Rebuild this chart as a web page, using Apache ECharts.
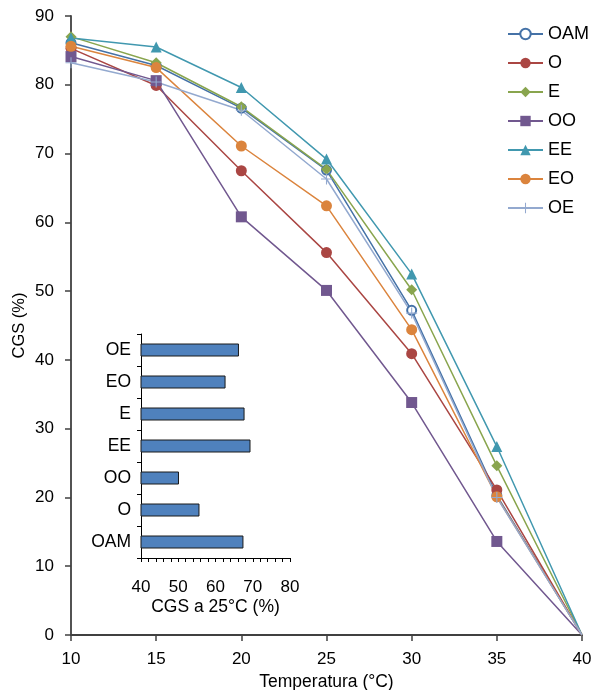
<!DOCTYPE html>
<html><head><meta charset="utf-8">
<script src="https://cdn.jsdelivr.net/npm/echarts@6/dist/echarts.min.js"></script>
<style>html,body{margin:0;padding:0;background:#fff}#c{width:592px;height:690px}</style>
</head><body><div id="c"></div>
<script>
const temps = [10, 15, 20, 25, 30, 35, 40];
const seriesNames = ['OAM', 'O', 'E', 'OO', 'EE', 'EO', 'OE'];
const OAM = [86.1, 82.8, 76.6, 67.6, 47.2, 20.3, 0];
const O   = [85.3, 79.9, 67.5, 55.6, 40.9, 21.1, 0];
const E   = [87.0, 83.2, 76.8, 67.7, 50.2, 24.6, 0];
const OO  = [84.1, 80.6, 60.8, 50.1, 33.8, 13.6, 0];
const EE  = [86.8, 85.5, 79.6, 69.2, 52.5, 27.4, 0];
const EO  = [85.6, 82.5, 71.1, 62.4, 44.4, 20.1, 0];
const OE  = [83.2, 80.4, 76.3, 66.3, 46.8, 20.0, 0];
const insetCats = ['OAM', 'O', 'OO', 'EE', 'E', 'EO', 'OE'];
const insetVals = [67.5, 55.7, 50.2, 69.4, 67.8, 62.7, 66.3];

const colors = {OAM:'#4572A7', O:'#AA4643', E:'#89A54E', OO:'#71588F', EE:'#4198AF', EO:'#DB843D', OE:'#93A9CF'};
const symbols = {OAM:'emptyCircle', O:'circle', E:'diamond', OO:'rect', EE:'triangle', EO:'circle',
  OE:'path://M4.5,0h1v4.5h4.5v1h-4.5v4.5h-1v-4.5h-4.5v-1h4.5z'};
const sizes = {OAM:9, O:11, E:11, OO:11, EE:11, EO:11, OE:11};
const dataMap = {OAM, O, E, OO, EE, EO, OE};

const font = 'Liberation Sans, Arial, sans-serif';
const axisCol = '#404040';
const fs = 17;

const lineSeries = seriesNames.map(n => ({
  name: n, type: 'line', xAxisIndex: 0, yAxisIndex: 0,
  data: temps.map((t, i) => {
    const item = {value: [t, dataMap[n][i]]};
    if (i === temps.length - 1) item.symbol = 'none';
    return item;
  }),
  symbol: symbols[n], symbolSize: sizes[n],
  itemStyle: {color: colors[n], borderWidth: n === 'OAM' ? 1.5 : 0},
  lineStyle: {color: colors[n], width: 1.5},
  z: 3
}));

const chart = echarts.init(document.getElementById('c'));
chart.setOption({
  animation: false,
  textStyle: {fontFamily: font},
  legend: {
    orient: 'vertical', left: 502, top: 20, itemWidth: 35, itemHeight: 13, itemGap: 11,
    textStyle: {fontSize: 18, color: '#000', fontFamily: font},
    data: seriesNames
  },
  grid: [
    {left: 71, top: 16, width: 511, height: 619, outerBoundsMode: 'none', containLabel: false},
    {left: 141, top: 334, width: 149, height: 224, outerBoundsMode: 'none', containLabel: false}
  ],
  xAxis: [
    {gridIndex: 0, type: 'value', min: 10, max: 40, interval: 5,
     name: 'Temperatura (°C)', nameLocation: 'middle', nameGap: 38,
     nameTextStyle: {fontSize: 17.5, color: '#000', fontFamily: font},
     axisLine: {lineStyle: {color: axisCol, width: 1.8}},
     axisTick: {show: true, length: 6, lineStyle: {color: axisCol, width: 1.5}},
     axisLabel: {fontSize: fs, color: '#000', margin: 16, fontFamily: font},
     splitLine: {show: false}},
    {gridIndex: 1, type: 'value', min: 40, max: 80, interval: 10,
     name: 'CGS a 25°C (%)', nameLocation: 'middle', nameGap: 40,
     nameTextStyle: {fontSize: 17.5, color: '#000', fontFamily: font},
     axisLine: {show: true, lineStyle: {color: '#000', width: 1}},
     axisTick: {show: true, length: 4, lineStyle: {color: '#000'}},
     minorTick: {show: true, splitNumber: 5, length: 4, lineStyle: {color: '#000'}},
     axisLabel: {fontSize: fs, color: '#000', margin: 21, fontFamily: font},
     splitLine: {show: false}},
  ],
  yAxis: [
    {gridIndex: 0, type: 'value', min: 0, max: 90, interval: 10,
     name: 'CGS (%)', nameLocation: 'middle', nameGap: 43, nameRotate: 90, nameMoveOverlap: false,
     nameTextStyle: {fontSize: 16.5, color: '#000', fontFamily: font},
     axisLine: {show: true, lineStyle: {color: axisCol, width: 1.8}},
     axisTick: {show: true, length: 6, lineStyle: {color: axisCol, width: 1.5}},
     axisLabel: {fontSize: fs, color: '#000', margin: 17, fontFamily: font},
     splitLine: {show: false}},
    {gridIndex: 1, type: 'category', data: insetCats,
     axisLine: {show: true, lineStyle: {color: '#000', width: 1}},
     axisTick: {show: true, length: 4, lineStyle: {color: '#000'}},
     axisLabel: {fontSize: 17.5, color: '#000', margin: 10, fontFamily: font}}
  ],
  series: lineSeries.concat([{
    type: 'bar', xAxisIndex: 1, yAxisIndex: 1, data: insetVals, barWidth: 13,
    itemStyle: {color: '#4F81BD', borderColor: '#1a1a1a', borderWidth: 1},
    silent: true, z: 2
  }])
});
</script></body></html>
